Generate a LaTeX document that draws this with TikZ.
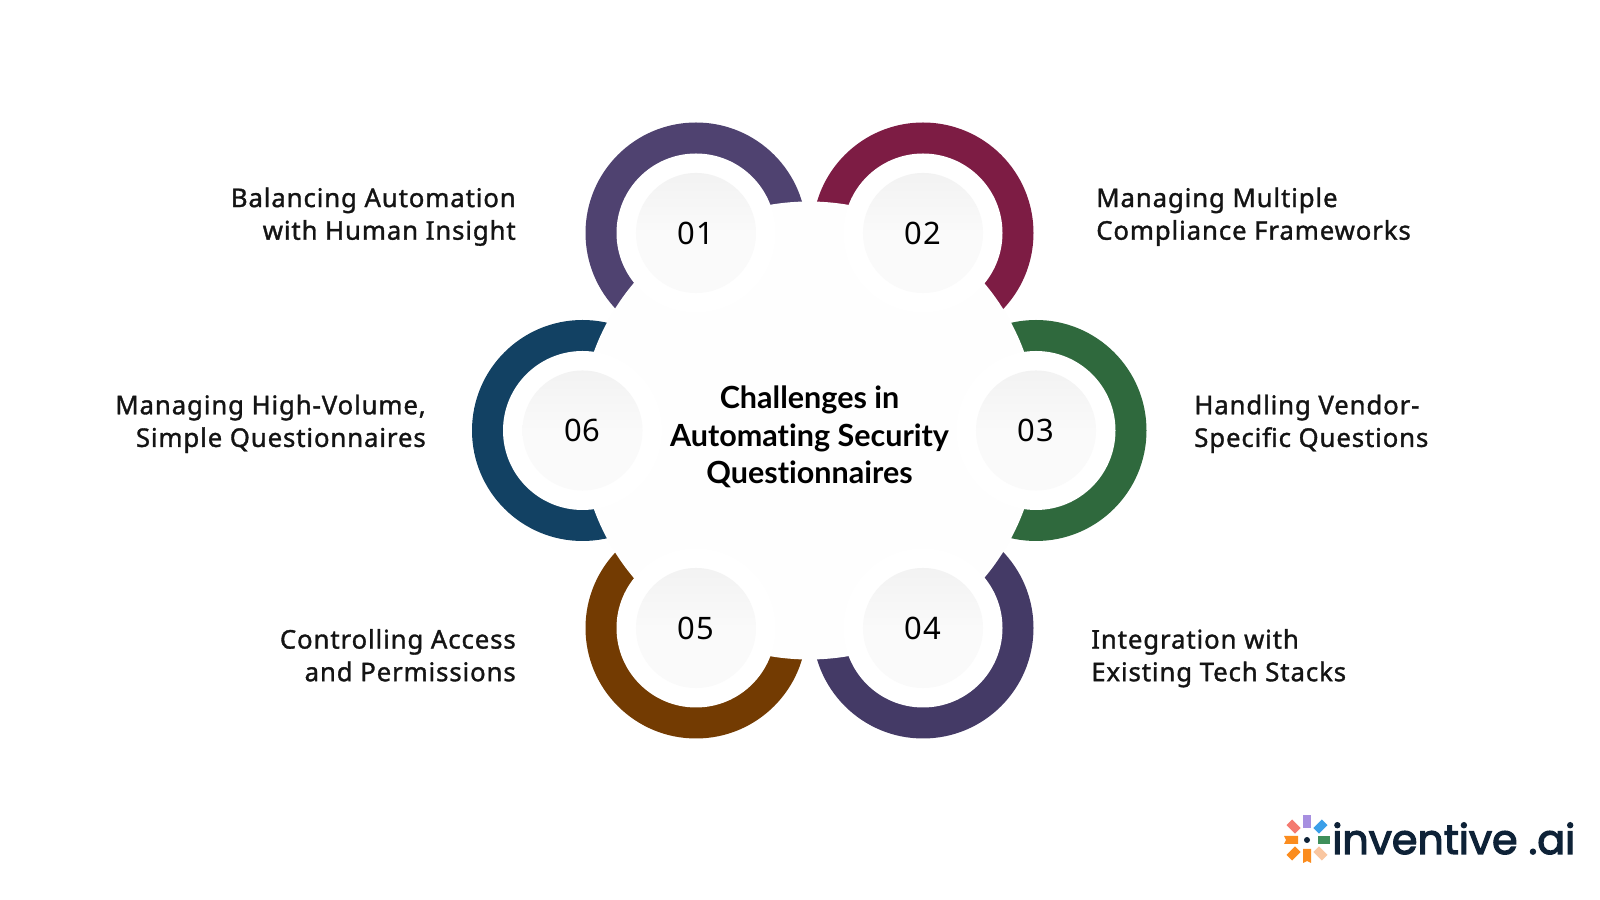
\documentclass[tikz,border=0pt]{standalone}
\usepackage{fontspec}
\setmainfont{Liberation Sans}
\newfontfamily\labelfont[FakeBold=1.3,LetterSpace=3.5]{Noto Sans}
\newfontfamily\numfont[LetterSpace=3.0]{Noto Sans}
\newfontfamily\titlefont[Ligatures=NoCommon]{Lato Bold}
\newfontfamily\logofont[FakeBold=3.0]{Poppins}
\definecolor{ringone}{HTML}{4F4270}
\definecolor{ringtwo}{HTML}{7D1C44}
\definecolor{ringthree}{HTML}{2F693D}
\definecolor{ringfour}{HTML}{443A66}
\definecolor{ringfive}{HTML}{733B02}
\definecolor{ringsix}{HTML}{124163}
\definecolor{hubfill}{HTML}{FEFEFE}
\definecolor{logotext}{HTML}{0E2237}
\definecolor{petalpurple}{HTML}{A78FE0}
\definecolor{petalblue}{HTML}{3B9FE8}
\definecolor{petalgreen}{HTML}{3F8F5A}
\definecolor{petalpeach}{HTML}{F9C6A0}
\definecolor{petalorange}{HTML}{FB8C1E}
\definecolor{petalcoral}{HTML}{F47A70}
\tikzset{
  numdisk/.style={circle,minimum size=3cm,inner sep=0pt,top color=black!5,bottom color=black!2,middle color=black!2,font=\numfont\fontsize{22}{24}\selectfont},
  sidelabel/.style={inner sep=0pt,text=black!92,font=\labelfont\fontsize{18.3}{23.2}\selectfont,execute at begin node=\strut,execute at end node=\strut},
  centerlabel/.style={inner sep=0pt,align=center,font=\titlefont\fontsize{21.7}{26.6}\selectfont,execute at begin node=\strut,execute at end node=\strut},
}
\begin{document}
\begin{tikzpicture}[x=0.025cm,y=0.025cm]
    \useasboundingbox (0,0) rectangle (1600,900);
    \fill[white] (0,0) rectangle (1600,900);
    \coordinate (O) at (809,469.5);
    \coordinate (A) at (696,667);
    \coordinate (B) at (923,667);
    \coordinate (C) at (1036,469.5);
    \coordinate (D) at (923,272);
    \coordinate (E) at (696,272);
    \coordinate (F) at (582.5,469.5);
    \coordinate (L) at (1307,60);
    % rings, cut by the hub disc
    \fill[ringone] (A) circle (110.5);
    \fill[ringtwo] (B) circle (110.5);
    \fill[ringthree] (C) circle (110.5);
    \fill[ringfour] (D) circle (110.5);
    \fill[ringfive] (E) circle (110.5);
    \fill[ringsix] (F) circle (110.5);
    \fill[hubfill] (O) circle (229);
    \fill[white] (A) circle (79.5);
    \fill[white] (B) circle (79.5);
    \fill[white] (C) circle (79.5);
    \fill[white] (D) circle (79.5);
    \fill[white] (E) circle (79.5);
    \fill[white] (F) circle (79.5);
    \node[numdisk] (num01) at (A) {01};
    \node[numdisk] (num02) at (B) {02};
    \node[numdisk] (num03) at (C) {03};
    \node[numdisk] (num04) at (D) {04};
    \node[numdisk] (num05) at (E) {05};
    \node[numdisk] (num06) at (F) {06};
    \node[centerlabel] (title) at (809.5,459.5) {Challenges in\\Automating Security\\Questionnaires};
    \node[sidelabel,align=right,anchor=east] (label01) at (516,681.5) {Balancing Automation\\with Human Insight};
    \node[sidelabel,align=left,anchor=west] (label02) at (1096,681.5) {Managing Multiple\\Compliance Frameworks};
    \node[sidelabel,align=left,anchor=west] (label03) at (1194,474.3) {Handling Vendor-\\Specific Questions};
    \node[sidelabel,align=left,anchor=west] (label04) at (1091,240) {Integration with\\Existing Tech Stacks};
    \node[sidelabel,align=right,anchor=east] (label05) at (516,240) {Controlling Access\\and Permissions};
    \node[sidelabel,align=right,anchor=east] (label06) at (426,474.3) {Managing High-Volume,\\Simple Questionnaires};
    % logo
    \fill[petalpurple,shift={(L)}] (-4,12) rectangle (4,25);
    \fill[petalblue,shift={(L)},rotate=-45] (-4,13) rectangle (4,25);
    \fill[petalgreen,shift={(L)}] (11,-4) rectangle (23,4);
    \fill[petalpeach,shift={(L)},rotate=-135] (-4,13) rectangle (4,25);
    \fill[petalorange,shift={(L)}] (-4,-9) -- (4,-9) -- (4,-23) -- (0,-21) -- (-4,-23) -- cycle;
    \fill[petalorange,shift={(L)},rotate=135] (-4,13) rectangle (4,25);
    \fill[petalorange,shift={(L)}] (-9,-4) -- (-9,4) -- (-23,4) -- (-21,0) -- (-23,-4) -- cycle;
    \fill[petalcoral,shift={(L)},rotate=45] (-4,13) rectangle (4,25);
    \fill[logotext] (L) circle (3);
    \node[inner sep=0pt,anchor=base west,text=logotext,font=\logofont\fontsize{29.3}{30}\selectfont] (logo) at (1332,46) {inventive .ai};
\end{tikzpicture}
\end{document}
